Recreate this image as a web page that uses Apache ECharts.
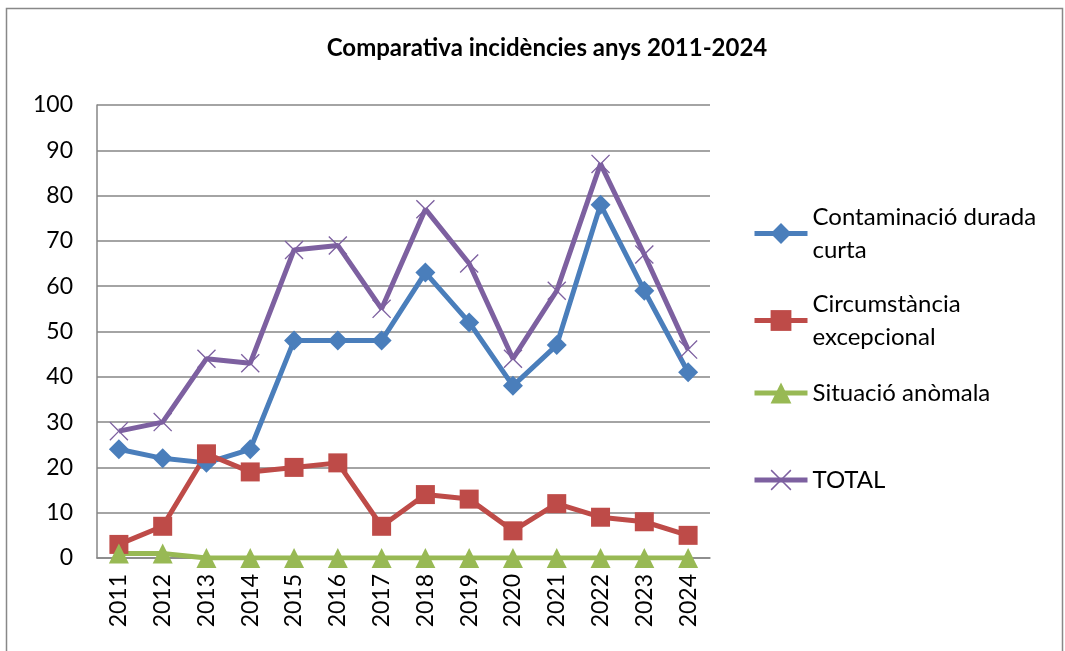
<!DOCTYPE html>
<html>
<head>
<meta charset="utf-8">
<script src="https://cdn.jsdelivr.net/npm/echarts@6/dist/echarts.min.js"></script>
<style>html,body{margin:0;padding:0;background:#fff}#c{width:1065px;height:651px}</style>
</head>
<body>
<div id="c"></div>
<script>
const years = ['2011','2012','2013','2014','2015','2016','2017','2018','2019','2020','2021','2022','2023','2024'];
const contaminacio = [24,22,21,24,48,48,48,63,52,38,47,78,59,41];
const circumstancia = [3,7,23,19,20,21,7,14,13,6,12,9,8,5];
const situacio = [1,1,0,0,0,0,0,0,0,0,0,0,0,0];
const total = [28,30,44,43,68,69,55,77,65,44,59,87,67,46];
const names = ['Contaminació durada curta','Circumstància excepcional','Situació anòmala','TOTAL'];
const legendLabels = ['Contaminació durada\ncurta','Circumstància\nexcepcional','Situació anòmala','TOTAL'];

const FONT = 'Lato';
const xPath = 'path://M0,1L1,0L10,9L19,0L20,1L11,10L20,19L19,20L10,11L1,20L0,19L9,10Z';
const colors = ['#4A7EBB','#BE4B48','#98B954','#7D60A0'];
const symbols = ['diamond','rect','triangle',xPath];
const sizes = [20,19,20,19];
const datasets = [contaminacio, circumstancia, situacio, total];

const chart = echarts.init(document.getElementById('c'), null, {renderer:'canvas'});
const legendTops = [205, 292, 381, 468];
const legends = names.map((n,i)=>({
  orient:'vertical', left: 752, top: legendTops[i], padding:0,
  data:[n], itemWidth: 53, itemHeight: 26, itemGap: 0,
  formatter: () => legendLabels[i],
  selectedMode: false,
  lineStyle:{width:5},
  textStyle:{fontFamily:FONT, fontSize:24, color:'#000', lineHeight:33, verticalAlign:'top', padding:[-15,0,0,0]}
}));
chart.setOption({
  animation:false,
  color: colors,
  title:{text:'Comparativa incidències anys 2011-2024', left:542, textAlign:'center', top:31,
    textStyle:{fontFamily:FONT, fontWeight:'bold', fontSize:24, color:'#000'}},
  graphic:[{type:'rect', shape:{x:6.5,y:8.5,width:1056,height:700}, style:{fill:'none', stroke:'#888', lineWidth:1.5}, silent:true}],
  legend: legends,
  grid:{left:97, top:105, right:355, bottom:93, containLabel:false},
  xAxis:{type:'category', data:years, boundaryGap:true,
    axisLine:{lineStyle:{color:'#868686', width:1.5}}, axisTick:{show:false},
    axisLabel:{rotate:90, fontFamily:FONT, fontSize:23, color:'#000', margin:16}},
  yAxis:{type:'value', min:0, max:100, interval:10,
    axisLine:{show:true, lineStyle:{color:'#868686', width:1.5}}, axisTick:{show:false},
    splitLine:{lineStyle:{color:'#868686', width:1.5}},
    axisLabel:{fontFamily:FONT, fontSize:23, color:'#000', margin:24}},
  series: names.map((n,i)=>({
    name:n, type:'line', data:datasets[i], symbol:symbols[i], symbolSize:sizes[i],
    showSymbol:true,
    lineStyle:{width:5, color:colors[i]},
    itemStyle:{color:colors[i]}
  }))
});
</script>
</body>
</html>
